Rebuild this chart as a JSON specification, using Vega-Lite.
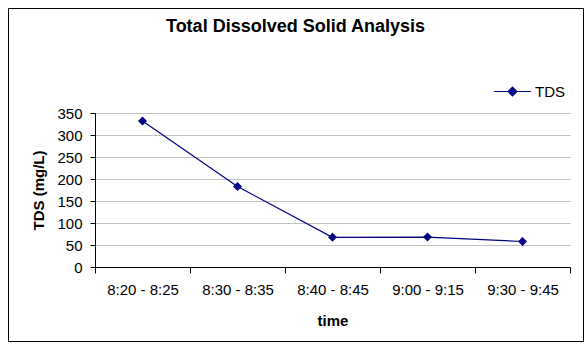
{
  "$schema": "https://vega.github.io/schema/vega-lite/v6.json",
  "width": 575,
  "height": 333,
  "autosize": {"type": "none"},
  "padding": {"left": 8, "top": 8, "right": 3, "bottom": 8},
  "background": "white",
  "title": {
    "text": "Total Dissolved Solid Analysis",
    "font": "Liberation Sans",
    "fontSize": 18,
    "fontWeight": "bold",
    "color": "black",
    "offset": -28
  },
  "config": {
    "view": {"stroke": "black", "strokeWidth": 1},
    "font": "Liberation Sans"
  },
  "data": {
    "values": [
      {"time": "8:20 - 8:25", "tds": 332, "series": "TDS"},
      {"time": "8:30 - 8:35", "tds": 183, "series": "TDS"},
      {"time": "8:40 - 8:45", "tds": 67.5, "series": "TDS"},
      {"time": "9:00 - 9:15", "tds": 68, "series": "TDS"},
      {"time": "9:30 - 9:45", "tds": 58, "series": "TDS"}
    ]
  },
  "encoding": {
    "x": {
      "field": "time",
      "type": "nominal",
      "sort": null,
      "scale": {"type": "band", "range": [87, 562], "paddingInner": 0, "paddingOuter": 0},
      "axis": {
        "title": "time",
        "offset": -74,
        "labelAngle": 0,
        "labelFont": "Liberation Sans",
        "labelFontSize": 15,
        "labelColor": "black",
        "labelPadding": 9,
        "tickBand": "extent",
        "tickSize": 6,
        "tickColor": "black",
        "domainColor": "black",
        "grid": false,
        "titleFont": "Liberation Sans",
        "titleFontSize": 15,
        "titleFontWeight": "bold",
        "titleColor": "black",
        "titleY": 53,
        "titleBaseline": "middle"
      }
    },
    "y": {
      "field": "tds",
      "type": "quantitative",
      "scale": {"domain": [0, 350], "range": [259, 105], "nice": false, "zero": true},
      "axis": {
        "title": "TDS (mg/L)",
        "offset": -87,
        "values": [0, 50, 100, 150, 200, 250, 300, 350],
        "labelFont": "Liberation Sans",
        "labelFontSize": 15,
        "labelColor": "black",
        "labelPadding": 8,
        "tickSize": 5,
        "tickColor": "black",
        "domainColor": "black",
        "grid": true,
        "gridColor": "#c0c0c0",
        "gridWidth": 1,
        "titleFont": "Liberation Sans",
        "titleFontSize": 15,
        "titleFontWeight": "bold",
        "titleColor": "black",
        "titleX": -57,
        "titleBaseline": "middle"
      }
    },
    "color": {
      "field": "series",
      "type": "nominal",
      "scale": {"range": ["#000080"]},
      "legend": {
        "title": null,
        "orient": "none",
        "legendX": 485,
        "legendY": 64,
        "symbolType": "M-1,0H1M0,-0.24L0.24,0L0,0.24L-0.24,0Z",
        "symbolSize": 1369,
        "symbolStrokeWidth": 1.2,
        "symbolFillColor": "#000080",
        "symbolStrokeColor": "#000080",
        "labelFont": "Liberation Sans",
        "labelFontSize": 15,
        "labelColor": "black",
        "labelOffset": 3
      }
    }
  },
  "layer": [
    {"mark": {"type": "line", "strokeWidth": 1.2}},
    {"mark": {"type": "point", "shape": "diamond", "filled": true, "size": 80, "opacity": 1}}
  ]
}
